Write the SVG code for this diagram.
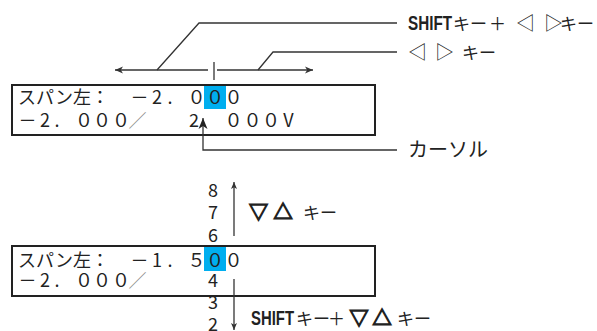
<svg xmlns="http://www.w3.org/2000/svg" width="597" height="331" viewBox="0 0 597 331">
<style>
.t{font-family:"Noto Sans CJK JP","Noto Sans",sans-serif;fill:#222}
.lcd{font-size:18px}
.c{text-anchor:middle}
.sl{fill:#888}
.box{fill:none;stroke:#222;stroke-width:2}
.hl{fill:#00aeef}
.ln{fill:none;stroke:#333;stroke-width:1.3}
.sh{font-family:"Liberation Sans",Arial,sans-serif;font-weight:bold;fill:#222}
.tri{font-size:19px;stroke:#222;stroke-width:1.4}
.lr{font-size:19px}
</style>
<defs>
<marker id="ah" markerUnits="userSpaceOnUse" markerWidth="9" markerHeight="8" refX="8" refY="4" orient="auto">
<path d="M0,0.5 L8,4 L0,7.5 L2.2,4 z" fill="#333"/>
</marker>
<marker id="ahs" markerUnits="userSpaceOnUse" markerWidth="8" markerHeight="7" refX="7" refY="3.5" orient="auto">
<path d="M0,0.5 L7,3.5 L0,6.5 L1.8,3.5 z" fill="#333"/>
</marker>
<marker id="ahc" markerUnits="userSpaceOnUse" markerWidth="12" markerHeight="10" refX="11" refY="5" orient="auto">
<path d="M0,0.5 L11,5 L0,9.5 L3,5 z" fill="#222"/>
</marker>
</defs>

<g id="display-top">
<rect class="box" x="12" y="85" width="363" height="50"/>
<rect class="hl" x="204" y="86" width="22" height="23"/>
<text class="t lcd" x="18" y="104">スパン左：</text>
<text class="t lcd c" y="104" x="139.5 157 170 196.5 215 233.5">－2.０００</text>
<text class="t lcd c" y="127" x="27.5 45 57 84 102 121">－2.０００</text>
<text class="t lcd c sl" y="127" x="137.5">／</text>
<text class="t lcd c" y="127" x="194">2</text>
<text class="t lcd c" y="127" x="233.5 252.5 271 288.5">０００V</text>
</g>

<g id="display-bottom">
<rect class="box" x="12" y="246" width="363" height="50"/>
<rect class="hl" x="204" y="247" width="22" height="24"/>
<text class="t lcd" x="18" y="267">スパン左：</text>
<text class="t lcd c" y="267" x="139.5 157 170 196.5 215 233.5">－1.５００</text>
<text class="t lcd c" y="287" x="27.5 45 57 84 102 121">－2.０００</text>
<text class="t lcd c sl" y="287" x="137.5">／</text>
</g>

<g id="digits-column">
<text class="t lcd c" x="213" y="196.5">8</text>
<text class="t lcd c" x="213" y="219">7</text>
<text class="t lcd c" x="213" y="241.5">6</text>
<text class="t lcd c" x="213" y="287">4</text>
<text class="t lcd c" x="213" y="309">3</text>
<text class="t lcd c" x="213" y="331">2</text>
</g>

<g id="label-shift-lr">
<text class="sh" x="408" y="30" font-size="20" textLength="44" lengthAdjust="spacingAndGlyphs">SHIFT</text>
<text class="t" y="30" font-size="17"><tspan x="453">キー</tspan><tspan x="497.5" text-anchor="middle">＋</tspan><tspan class="lr" x="525.5" text-anchor="middle">◁</tspan><tspan class="lr" x="553.5" text-anchor="middle">▷</tspan><tspan x="560">キー</tspan></text>
</g>

<g id="label-lr">
<text class="t" y="59" font-size="17"><tspan class="lr" x="417.5" text-anchor="middle">◁</tspan><tspan class="lr" x="444.5" text-anchor="middle">▷</tspan><tspan x="462">キー</tspan></text>
</g>

<g id="label-cursor">
<text class="t" x="408" y="157" font-size="20">カーソル</text>
</g>

<g id="label-updown">
<text class="t" y="218.5" font-size="17"><tspan class="tri" x="258.5" text-anchor="middle">▽</tspan><tspan class="tri" x="283" text-anchor="middle">△</tspan><tspan x="303">キー</tspan></text>
</g>

<g id="label-shift-updown">
<text class="sh" x="251" y="325" font-size="20" textLength="43" lengthAdjust="spacingAndGlyphs">SHIFT</text>
<text class="t" y="325" font-size="17"><tspan x="296">キー</tspan><tspan x="336.5" text-anchor="middle">＋</tspan><tspan class="tri" x="359" text-anchor="middle">▽</tspan><tspan class="tri" x="382" text-anchor="middle">△</tspan><tspan x="397">キー</tspan></text>
</g>

<g id="connectors">
<line class="ln" x1="208" y1="70" x2="115" y2="70" marker-end="url(#ah)"/>
<line class="ln" x1="217" y1="70" x2="313" y2="70" marker-end="url(#ah)"/>
<line class="ln" x1="214" y1="62" x2="214" y2="80"/>
<polyline class="ln" points="157,70 199,23 397,23"/>
<polyline class="ln" points="258,70 273,52 397,52"/>
<polyline class="ln" points="397,150 203,150 203,118" marker-end="url(#ahc)"/>
<line class="ln" x1="234" y1="236" x2="234" y2="182" marker-end="url(#ahs)"/>
<line class="ln" x1="234" y1="279" x2="234" y2="330" marker-end="url(#ahs)"/>
</g>
</svg>
